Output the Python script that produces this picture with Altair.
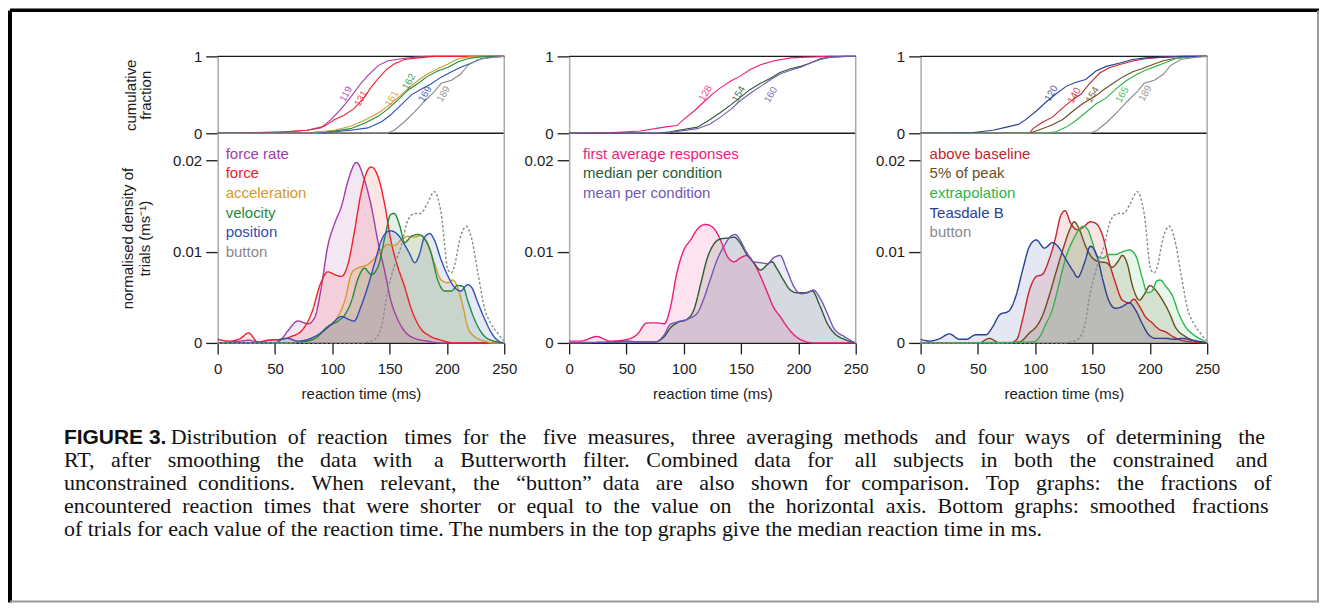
import altair as alt
import pandas as pd

SANS = "Liberation Sans"
SERIF = "Liberation Serif"
BORDER = "#ababab"
INK = "#1c1c1c"

# ---------------- panel 1: five measures ----------------
P1_NAMES = ["force rate", "force", "acceleration", "velocity", "position", "button"]
P1_COLORS = ["#a23ca6", "#ee2229", "#d39a2c", "#1f8b3b", "#2f4fb3", "#8a8a8a"]

FR_T = [0, 20, 27, 35, 45, 55, 61, 70, 79, 85, 90, 96, 102, 108, 114, 121, 128, 134, 140, 146, 151, 157, 163, 172, 183, 195, 250]
FR_D = [0, 0.0002, 0.0003, 0.0001, 0.0003, 0.0004, 0.0013, 0.0024, 0.0021, 0.0029, 0.0058, 0.0106, 0.0131, 0.0150, 0.0179, 0.0198, 0.0179, 0.0150, 0.0110, 0.0077, 0.0047, 0.0026, 0.0013, 0.0005, 0.0002, 0, 0]
F_T = [0, 10, 20, 27, 35, 44, 56, 64, 73, 82, 90, 96, 102, 108, 114, 119, 125, 131, 134, 140, 146, 151, 157, 163, 169, 177, 186, 195, 206, 250]
F_D = [0.0004, 0.0002, 0.0005, 0.0011, 0.0001, 0.0003, 0.0004, 0.0007, 0.0013, 0.0033, 0.0066, 0.0078, 0.0075, 0.0073, 0.0088, 0.0120, 0.0164, 0.0190, 0.0193, 0.0182, 0.0150, 0.0113, 0.0084, 0.0062, 0.0037, 0.0016, 0.0007, 0.0003, 0, 0]
A_T = [0, 55, 73, 85, 96, 105, 111, 117, 122, 131, 137, 143, 148, 154, 160, 166, 172, 177, 183, 189, 195, 201, 205, 209, 214, 218, 224, 233, 240, 250]
A_D = [0, 0, 0.0001, 0.0005, 0.0018, 0.0029, 0.0047, 0.0077, 0.0082, 0.0086, 0.0093, 0.0102, 0.0108, 0.0107, 0.0113, 0.0117, 0.0116, 0.0118, 0.0110, 0.0088, 0.0069, 0.0066, 0.0069, 0.0062, 0.0040, 0.0018, 0.0007, 0.0002, 0, 0]
V_T = [0, 60, 73, 85, 96, 105, 111, 117, 122, 128, 134, 140, 146, 151, 154, 159, 163, 169, 175, 180, 186, 192, 198, 204, 209, 214, 218, 224, 233, 241, 250]
V_D = [0, 0, 0.0001, 0.0005, 0.0018, 0.0024, 0.0031, 0.0047, 0.0069, 0.0082, 0.0075, 0.0084, 0.0117, 0.0141, 0.0142, 0.0128, 0.0110, 0.0117, 0.0119, 0.0115, 0.0099, 0.0069, 0.0057, 0.0057, 0.0063, 0.0062, 0.0047, 0.0026, 0.0007, 0.0002, 0]
P_T = [0, 50, 56, 61, 70, 79, 90, 99, 108, 114, 119, 125, 131, 137, 143, 148, 151, 157, 163, 167, 172, 176, 180, 185, 189, 195, 201, 206, 212, 218, 222, 227, 233, 238, 244, 250]
P_D = [0, 0, 0.0004, 0.0005, 0.0002, 0.0004, 0.0011, 0.0020, 0.0029, 0.0026, 0.0024, 0.0040, 0.0062, 0.0088, 0.0113, 0.0122, 0.0123, 0.0119, 0.0108, 0.0099, 0.0088, 0.0097, 0.0115, 0.0120, 0.0113, 0.0091, 0.0073, 0.0062, 0.0057, 0.0064, 0.0060, 0.0044, 0.0026, 0.0013, 0.0003, 0]
B_T = [0, 125, 131, 137, 143, 148, 154, 160, 166, 172, 177, 183, 189, 195, 201, 204, 206, 212, 217, 221, 227, 233, 238, 244, 250]
B_D = [0, 0, 0.0001, 0.0004, 0.0018, 0.0055, 0.0084, 0.0106, 0.0135, 0.0142, 0.0142, 0.0153, 0.0166, 0.0142, 0.0080, 0.0077, 0.0082, 0.0117, 0.0128, 0.0117, 0.0077, 0.0037, 0.0022, 0.0011, 0.0002]

# cumulative fractions, panel 1
C_FR_T = [0, 30, 61, 78, 90, 99, 108, 116, 125, 131, 140, 148, 160, 172, 183, 250]
C_FR = [0, 0.005, 0.02, 0.04, 0.07, 0.18, 0.32, 0.47, 0.65, 0.75, 0.88, 0.94, 0.97, 0.99, 1, 1]
C_F_T = [0, 14, 29, 55, 78, 93, 102, 110, 119, 128, 134, 140, 148, 154, 163, 175, 189, 250]
C_F = [0, 0, 0.01, 0.015, 0.04, 0.09, 0.18, 0.23, 0.32, 0.47, 0.60, 0.71, 0.84, 0.90, 0.96, 0.98, 1, 1]
C_A_T = [0, 73, 102, 116, 128, 140, 148, 157, 166, 175, 183, 192, 201, 210, 218, 230, 250]
C_A = [0, 0, 0.04, 0.09, 0.17, 0.26, 0.35, 0.46, 0.58, 0.69, 0.77, 0.84, 0.90, 0.97, 0.99, 1, 1]
C_V_T = [0, 87, 102, 116, 128, 140, 148, 157, 166, 175, 183, 192, 201, 210, 218, 227, 240, 250]
C_V = [0, 0, 0.03, 0.06, 0.13, 0.22, 0.31, 0.43, 0.56, 0.65, 0.74, 0.81, 0.86, 0.93, 0.97, 0.99, 1, 1]
C_P_T = [0, 87, 102, 116, 131, 143, 151, 160, 169, 177, 186, 195, 204, 212, 221, 230, 239, 250]
C_P = [0, 0, 0.02, 0.04, 0.07, 0.15, 0.24, 0.37, 0.50, 0.57, 0.64, 0.73, 0.80, 0.86, 0.91, 0.97, 0.99, 1]
C_B_T = [0, 148, 154, 163, 172, 180, 189, 195, 204, 212, 218, 227, 236, 242, 250]
C_B = [0, 0, 0.04, 0.15, 0.28, 0.41, 0.54, 0.65, 0.69, 0.77, 0.88, 0.96, 0.98, 0.99, 1]

P1_MED = ["119", "131", "161", "162", "169", "189"]
P1_MED_MS = [112, 125, 152, 167, 181, 197]
P1_MED_FRAC = [0.51, 0.45, 0.45, 0.67, 0.51, 0.51]

# ---------------- panel 2: averaging methods ----------------
P2_NAMES = ["first average responses", "median per condition", "mean per condition"]
P2_COLORS = ["#ec1c7c", "#2c5a32", "#7457b8"]

FA_T = [0, 10, 24, 36, 51, 59, 68, 77, 83, 88, 94, 100, 106, 112, 119, 126, 132, 138, 144, 149, 155, 161, 167, 173, 178, 184, 190, 196, 205, 213, 250]
FA_D = [0.0002, 0.0002, 0.0007, 0.0002, 0.0004, 0.0009, 0.0022, 0.0022, 0.0021, 0.0037, 0.0077, 0.0102, 0.0113, 0.0125, 0.0130, 0.0126, 0.0113, 0.0095, 0.0089, 0.0093, 0.0096, 0.0088, 0.0073, 0.0055, 0.0040, 0.0029, 0.0018, 0.0009, 0.0002, 0, 0]
MD_T = [0, 40, 50, 60, 74, 83, 88, 94, 103, 109, 115, 120, 126, 132, 138, 144, 149, 155, 161, 167, 173, 177, 181, 187, 193, 199, 205, 212, 219, 225, 231, 240, 250]
MD_D = [0, 0.0001, 0.0002, 0.0001, 0.0001, 0.0007, 0.0016, 0.0022, 0.0026, 0.0037, 0.0066, 0.0091, 0.0108, 0.0114, 0.0115, 0.0116, 0.0110, 0.0097, 0.0088, 0.0080, 0.0086, 0.0089, 0.0082, 0.0069, 0.0058, 0.0055, 0.0055, 0.0057, 0.0040, 0.0022, 0.0011, 0.0004, 0]
MN_T = [0, 50, 75, 83, 88, 94, 103, 112, 117, 123, 129, 135, 141, 145, 149, 155, 161, 167, 173, 178, 184, 190, 196, 202, 208, 213, 219, 225, 231, 240, 250]
MN_D = [0, 0.0001, 0.0001, 0.0009, 0.0020, 0.0023, 0.0026, 0.0033, 0.0047, 0.0069, 0.0091, 0.0106, 0.0117, 0.0119, 0.0113, 0.0099, 0.0089, 0.0088, 0.0087, 0.0093, 0.0096, 0.0080, 0.0062, 0.0054, 0.0055, 0.0058, 0.0049, 0.0033, 0.0016, 0.0007, 0]

C_FA_T = [0, 10, 39, 62, 83, 94, 100, 109, 117, 125, 132, 141, 149, 158, 167, 178, 193, 208, 228, 250]
C_FA = [0, 0, 0.01, 0.03, 0.08, 0.10, 0.18, 0.29, 0.40, 0.51, 0.59, 0.68, 0.74, 0.83, 0.89, 0.94, 0.98, 0.99, 1, 1]
C_MD_T = [0, 77, 88, 112, 123, 132, 141, 152, 158, 167, 176, 184, 193, 202, 210, 219, 228, 240, 250]
C_MD = [0, 0, 0.02, 0.08, 0.18, 0.27, 0.37, 0.50, 0.57, 0.65, 0.72, 0.79, 0.84, 0.87, 0.91, 0.97, 0.99, 1, 1]
C_MN_T = [0, 83, 112, 123, 132, 141, 149, 158, 167, 176, 184, 193, 202, 210, 219, 228, 242, 250]
C_MN = [0, 0, 0.06, 0.12, 0.21, 0.31, 0.42, 0.52, 0.61, 0.70, 0.77, 0.82, 0.86, 0.91, 0.96, 0.99, 1, 1]

P2_MED = ["128", "154", "160"]
P2_MED_MS = [119, 148, 176]
P2_MED_FRAC = [0.52, 0.51, 0.50]

# ---------------- panel 3: ways of determining the RT ----------------
P3_NAMES = ["above baseline", "5% of peak", "extrapolation", "Teasdale B", "button"]
P3_COLORS = ["#c3252d", "#6b4d1f", "#2fb44b", "#2b3e98", "#8a8a8a"]

AB_T = [0, 78, 84, 89, 95, 101, 106, 112, 118, 122, 126, 131, 137, 143, 148, 153, 159, 164, 170, 176, 182, 186, 191, 196, 202, 208, 214, 220, 231, 250]
AB_D = [0, 0, 0.0004, 0.0026, 0.0058, 0.0073, 0.0075, 0.0091, 0.0117, 0.0139, 0.0145, 0.0131, 0.0124, 0.0128, 0.0133, 0.0131, 0.0117, 0.0091, 0.0066, 0.0047, 0.0044, 0.0048, 0.0040, 0.0029, 0.0022, 0.0015, 0.0012, 0.0007, 0.0002, 0]
PK_T = [0, 51, 60, 69, 86, 95, 101, 106, 112, 118, 124, 130, 134, 138, 144, 150, 156, 162, 167, 172, 176, 180, 185, 191, 195, 200, 205, 211, 217, 222, 231, 240, 250]
PK_D = [0, 0, 0.0005, 0, 0.0001, 0.0011, 0.0018, 0.0029, 0.0051, 0.0077, 0.0102, 0.0124, 0.0133, 0.0126, 0.0106, 0.0093, 0.0089, 0.0088, 0.0083, 0.0089, 0.0096, 0.0088, 0.0062, 0.0047, 0.0053, 0.0063, 0.0058, 0.0047, 0.0033, 0.0018, 0.0007, 0.0002, 0]
EX_T = [0, 98, 104, 109, 115, 121, 127, 133, 138, 142, 146, 150, 154, 159, 164, 170, 176, 182, 188, 193, 198, 202, 206, 209, 214, 220, 225, 231, 238, 246, 250]
EX_D = [0, 0.0001, 0.0007, 0.0020, 0.0037, 0.0066, 0.0095, 0.0113, 0.0124, 0.0128, 0.0124, 0.0110, 0.0095, 0.0093, 0.0097, 0.0097, 0.0100, 0.0102, 0.0095, 0.0073, 0.0055, 0.0057, 0.0068, 0.0069, 0.0062, 0.0051, 0.0033, 0.0018, 0.0009, 0.0003, 0]
TB_T = [0, 8, 17, 25, 34, 40, 48, 57, 63, 69, 77, 83, 89, 95, 101, 108, 115, 121, 127, 133, 137, 143, 148, 154, 159, 164, 170, 176, 182, 188, 193, 199, 205, 214, 222, 228, 237, 250]
TB_D = [0.0004, 0.0002, 0.0005, 0.0010, 0.0004, 0.0004, 0.0009, 0.0009, 0.0018, 0.0031, 0.0035, 0.0051, 0.0080, 0.0106, 0.0113, 0.0104, 0.0110, 0.0104, 0.0091, 0.0079, 0.0072, 0.0088, 0.0106, 0.0095, 0.0069, 0.0047, 0.0038, 0.0040, 0.0044, 0.0035, 0.0022, 0.0009, 0.0005, 0.0005, 0.0004, 0.0005, 0.0003, 0]

C_AB_T = [0, 95, 98, 106, 115, 124, 133, 140, 147, 156, 164, 173, 185, 196, 211, 225, 250]
C_AB = [0, 0, 0.06, 0.14, 0.21, 0.33, 0.44, 0.51, 0.64, 0.78, 0.85, 0.89, 0.94, 0.97, 0.99, 1, 1]
C_PK_T = [0, 95, 106, 115, 124, 133, 141, 154, 159, 167, 176, 185, 193, 202, 211, 220, 231, 245, 250]
C_PK = [0, 0, 0.06, 0.11, 0.18, 0.29, 0.38, 0.50, 0.56, 0.64, 0.73, 0.80, 0.84, 0.89, 0.94, 0.97, 0.99, 1, 1]
C_EX_T = [0, 109, 118, 127, 135, 144, 153, 162, 170, 179, 188, 196, 205, 214, 222, 231, 245, 250]
C_EX = [0, 0, 0.02, 0.08, 0.16, 0.27, 0.38, 0.46, 0.57, 0.68, 0.76, 0.82, 0.87, 0.92, 0.97, 0.99, 1, 1]
C_TB_T = [0, 17, 46, 63, 75, 86, 92, 101, 109, 118, 127, 135, 144, 153, 162, 173, 185, 196, 214, 230, 250]
C_TB = [0, 0, 0.01, 0.04, 0.08, 0.12, 0.18, 0.29, 0.40, 0.51, 0.61, 0.66, 0.70, 0.81, 0.87, 0.91, 0.96, 0.98, 0.99, 1, 1]

P3_MED = ["120", "140", "154", "165", "189"]
P3_MED_SERIES = ["Teasdale B", "above baseline", "5% of peak", "extrapolation", "button"]
P3_MED_MS = [114, 134, 150, 176, 196]
P3_MED_FRAC = [0.52, 0.49, 0.50, 0.50, 0.52]

CAPTION_LEAD = "FIGURE 3."
CAPTION_LINES = [
    "Distribution of reaction times for the five measures, three averaging methods and four ways of determining the",
    "RT, after smoothing the data with a Butterworth filter. Combined data for all subjects in both the constrained and",
    "unconstrained conditions. When relevant, the \u201cbutton\u201d data are also shown for comparison. Top graphs: the fractions of",
    "encountered reaction times that were shorter or equal to the value on the horizontal axis. Bottom graphs: smoothed fractions",
    "of trials for each value of the reaction time. The numbers in the top graphs give the median reaction time in ms.",
]
# extra no-break spaces spread over each line's gaps to imitate the justified setting
JUSTIFY_UNITS = [22, 39, 29, 21, 0]


def justify(text, units):
    words = text.split(" ")
    gaps = len(words) - 1
    if units <= 0 or gaps <= 0:
        return text
    out = words[0]
    for i in range(gaps):
        k = (units * (i + 1)) // gaps - (units * i) // gaps
        out += " " + "\u00a0" * k + words[i + 1]
    return out


def long_df(entries, ycol):
    rows = []
    for name, ts, vs in entries:
        for t, v in zip(ts, vs):
            rows.append({"series": name, "ms": t, ycol: v})
    return pd.DataFrame(rows)


def color_expr(names, colors):
    cs = ",".join("'%s'" % c for c in colors)
    ns = ",".join("'%s'" % n for n in names)
    return alt.ExprRef(expr="[%s][indexof([%s], datum.value)]" % (cs, ns))


def panel(names, colors, dens_entries, cdf_entries, med_txt, med_series, med_ms, med_frac, legend_x, first):
    cscale = alt.Scale(domain=names, range=colors)
    xscale = alt.Scale(domain=[0, 250], nice=False, zero=False)

    # ----- top: cumulative fraction -----
    x_top = alt.X("ms:Q", scale=xscale, axis=None)
    y_top = alt.Y(
        "frac:Q",
        scale=alt.Scale(domain=[0, 1], nice=False),
        axis=alt.Axis(values=[0, 1], format="d", tickSize=12, labelPadding=4, labelFlush=False,
                      domainColor=BORDER, domainWidth=1.5, tickColor=INK,
                      title=["cumulative", "fraction"] if first else None,
                      titlePadding=40, titleLineHeight=15),
    )
    c_top = alt.Color("series:N", scale=cscale, legend=None)
    cdf_df = long_df(cdf_entries, "frac")
    lab_df = pd.DataFrame({"series": med_series, "ms": med_ms, "frac": med_frac, "txt": med_txt})

    rules = alt.Chart(pd.DataFrame({"frac": [0, 1]})).mark_rule(color=INK, strokeWidth=1.4).encode(y=y_top)
    edge_t = alt.Chart(pd.DataFrame({"ms": [250]})).mark_rule(color=BORDER, strokeWidth=1.5).encode(x=x_top)
    cdf_lines = alt.Chart(cdf_df).mark_line(strokeWidth=1.1).encode(x=x_top, y=y_top, color=c_top)
    med = alt.Chart(lab_df).mark_text(angle=300, fontSize=10, font=SANS, opacity=0.85).encode(
        x=x_top, y=y_top, text="txt:N", color=c_top)
    top = alt.layer(rules, edge_t, cdf_lines, med).properties(width=287, height=77)

    # ----- bottom: density -----
    x_bot = alt.X("ms:Q", scale=xscale,
                  axis=alt.Axis(values=[0, 50, 100, 150, 200, 250], tickSize=11, labelPadding=8,
                                labelFlush=False, title="reaction time (ms)", titlePadding=10,
                                domainColor=INK, domainWidth=1.3, tickColor=INK))
    y_bot = alt.Y("dens:Q", stack=None, scale=alt.Scale(domain=[0, 0.023], nice=False),
                  axis=alt.Axis(values=[0, 0.01, 0.02], format=".2~f", tickSize=12, labelPadding=4,
                                labelFlush=False, domainColor=BORDER, domainWidth=1.5, tickColor=INK,
                                title=["normalised density of", "trials (ms\u207b\u00b9)"] if first else None,
                                titlePadding=20, titleLineHeight=17))
    leg = alt.Legend(title=None, orient="none", legendX=legend_x, legendY=13,
                     symbolSize=0, symbolOpacity=0, symbolStrokeWidth=0, labelOffset=0,
                     labelFontSize=15, labelFont=SANS, labelColor=color_expr(names, colors),
                     rowPadding=3.7, padding=0)
    c_bot = alt.Color("series:N", scale=cscale, legend=leg)
    dens_df = long_df(dens_entries, "dens")
    area = alt.Chart(dens_df).transform_filter("datum.series != 'button'").mark_area(
        opacity=0.12, interpolate="monotone").encode(x=x_bot, y=y_bot, color=c_bot)
    line = alt.Chart(dens_df).mark_line(strokeWidth=1.4, interpolate="monotone").encode(
        x=x_bot, y=y_bot, color=c_bot,
        strokeDash=alt.condition("datum.series == 'button'", alt.value([2.5, 2]), alt.value([1, 0])))
    edge_b = alt.Chart(pd.DataFrame({"ms": [250]})).mark_rule(color=BORDER, strokeWidth=1.5).encode(x=x_bot)
    return top, [area, line, edge_b]


t1, b1 = panel(P1_NAMES, P1_COLORS,
               [("force rate", FR_T, FR_D), ("force", F_T, F_D), ("acceleration", A_T, A_D),
                ("velocity", V_T, V_D), ("position", P_T, P_D), ("button", B_T, B_D)],
               [("force rate", C_FR_T, C_FR), ("force", C_F_T, C_F), ("acceleration", C_A_T, C_A),
                ("velocity", C_V_T, C_V), ("position", C_P_T, C_P), ("button", C_B_T, C_B)],
               P1_MED, P1_NAMES, P1_MED_MS, P1_MED_FRAC, -7, True)
t2, b2 = panel(P2_NAMES, P2_COLORS,
               [("first average responses", FA_T, FA_D), ("median per condition", MD_T, MD_D),
                ("mean per condition", MN_T, MN_D)],
               [("first average responses", C_FA_T, C_FA), ("median per condition", C_MD_T, C_MD),
                ("mean per condition", C_MN_T, C_MN)],
               P2_MED, P2_NAMES, P2_MED_MS, P2_MED_FRAC, -1, False)
t3, b3 = panel(P3_NAMES, P3_COLORS,
               [("above baseline", AB_T, AB_D), ("5% of peak", PK_T, PK_D), ("extrapolation", EX_T, EX_D),
                ("Teasdale B", TB_T, TB_D), ("button", B_T, B_D)],
               [("above baseline", C_AB_T, C_AB), ("5% of peak", C_PK_T, C_PK), ("extrapolation", C_EX_T, C_EX),
                ("Teasdale B", C_TB_T, C_TB), ("button", C_B_T, C_B)],
               P3_MED, P3_MED_SERIES, P3_MED_MS, P3_MED_FRAC, -6, False)

# ----- caption block and page frame, placed relative to the first density panel -----
one = alt.Chart(pd.DataFrame({"k": [0]}))
frame = [
    one.mark_rule(color="black", strokeWidth=3.5).encode(x=alt.value(-208), x2=alt.value(1103), y=alt.value(-123.25)),
    one.mark_rule(color="black", strokeWidth=4).encode(x=alt.value(-208), y=alt.value(-123), y2=alt.value(470)),
    one.mark_rule(color="#9a9a9a", strokeWidth=2).encode(x=alt.value(1102), y=alt.value(-123), y2=alt.value(470)),
    one.mark_rule(color="#9a9a9a", strokeWidth=2).encode(x=alt.value(-208), x2=alt.value(1103), y=alt.value(469)),
]
cap_lines = [justify(t, u) for t, u in zip(CAPTION_LINES, JUSTIFY_UNITS)]
caption = [
    one.mark_text(align="left", baseline="alphabetic", font=SANS, fontWeight="bold", fontSize=21,
                  color="#111").encode(x=alt.value(-154), y=alt.value(311.5), text=alt.value(CAPTION_LEAD)),
    one.mark_text(align="left", baseline="alphabetic", font=SERIF, fontSize=22, color="#111").encode(
        x=alt.value(-47), y=alt.value(311.5), text=alt.value(cap_lines[0])),
    one.mark_text(align="left", baseline="alphabetic", font=SERIF, fontSize=22, lineHeight=23,
                  color="#111").encode(x=alt.value(-154), y=alt.value(334.5), text=alt.value(cap_lines[1:])),
]

bottom1 = alt.layer(*b1, *frame, *caption).properties(width=287, height=210)
bottom2 = alt.layer(*b2).properties(width=287, height=210)
bottom3 = alt.layer(*b3).properties(width=287, height=210)

chart = (
    alt.concat(t1, t2, t3, bottom1, bottom2, bottom3, columns=3,
               spacing={"row": 0, "column": 65}, bounds="flush")
    .resolve_scale(color="independent")
    .properties(padding=0)
    .configure_view(strokeWidth=0)
    .configure_axis(labelFont=SANS, titleFont=SANS, labelFontSize=15, titleFontSize=15,
                    titleFontWeight="normal", labelColor=INK, titleColor=INK, tickWidth=1.3, grid=False)
)

chart.save("out.html", embed_options={"renderer": "svg", "actions": False})
